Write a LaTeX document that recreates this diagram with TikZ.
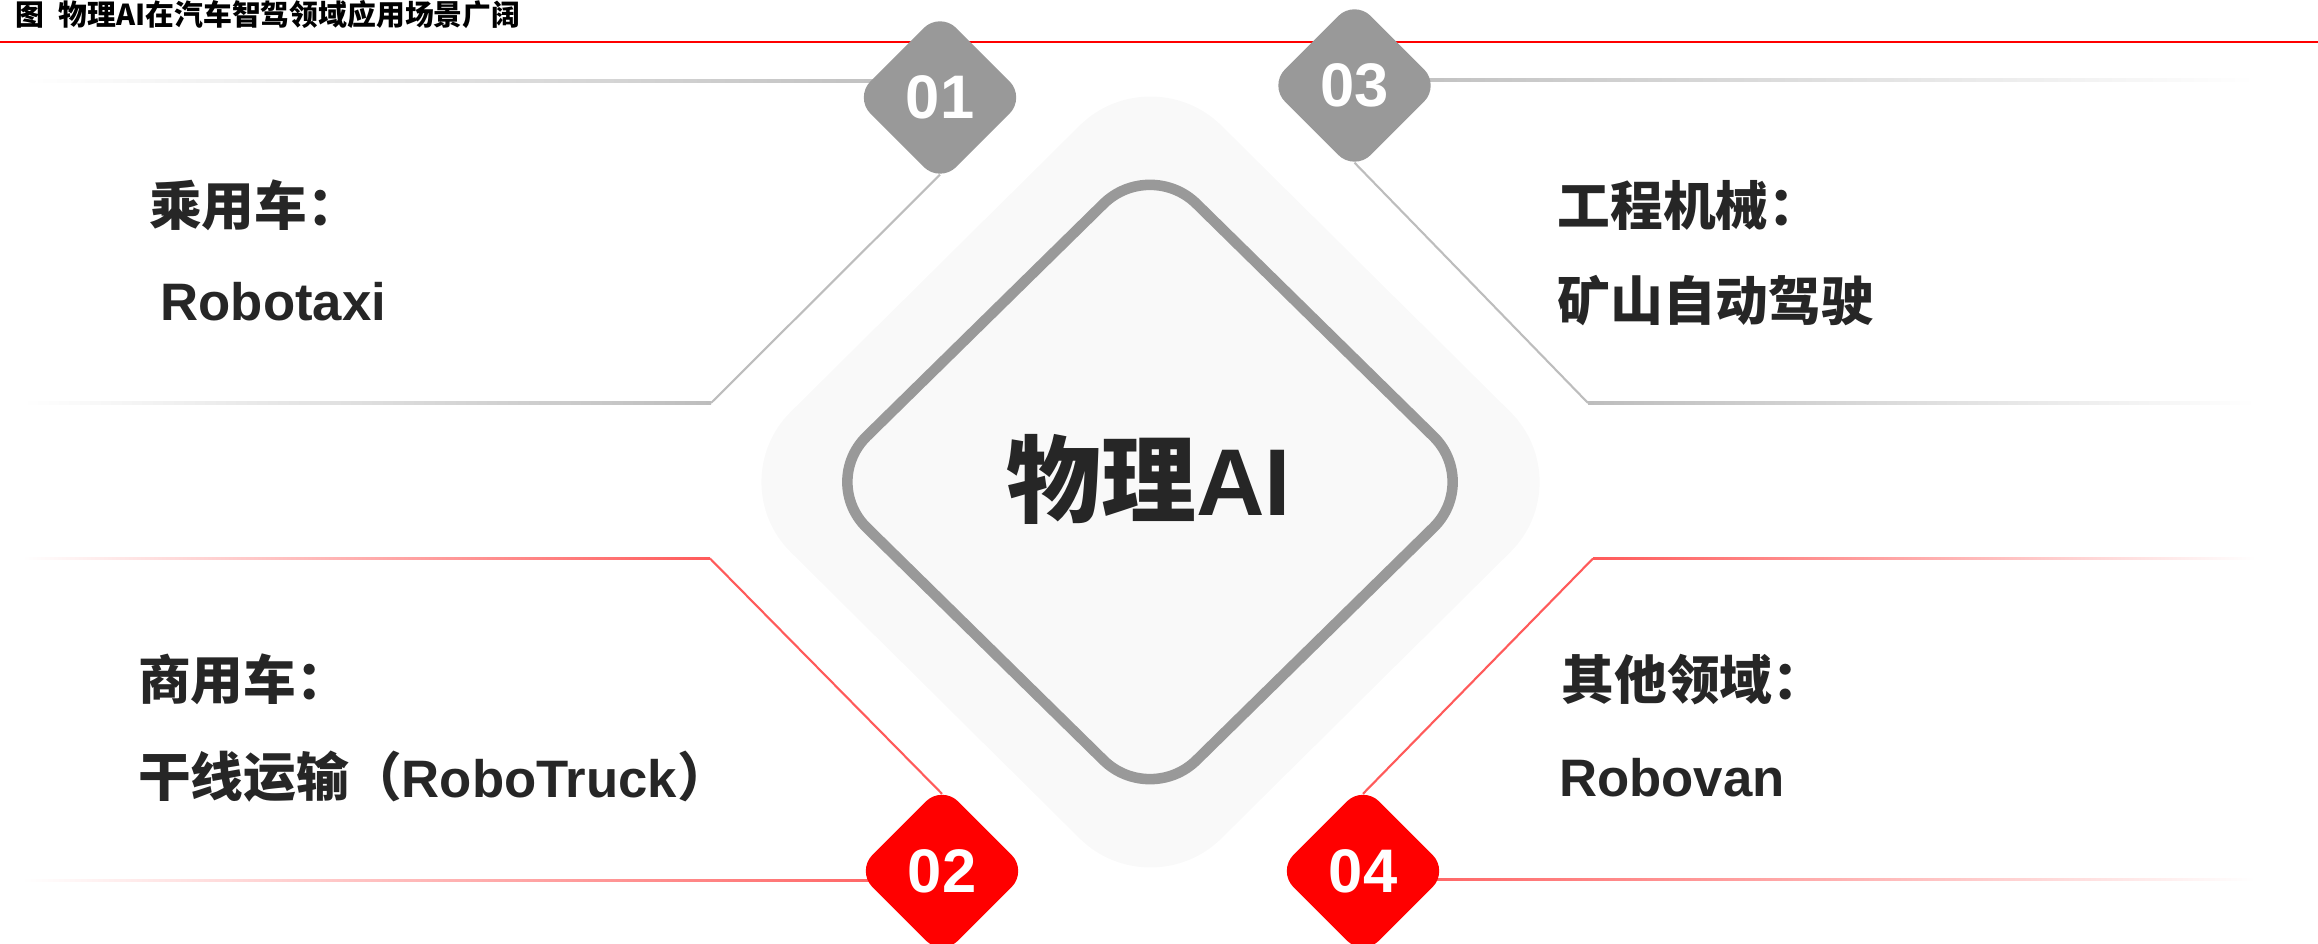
\documentclass[tikz,border=0pt]{standalone}
\usepackage{fontspec}
\setmainfont{Liberation Sans}
\newfontfamily\cjk{Noto Sans CJK SC}
\usetikzlibrary{shapes.geometric}

\definecolor{markgrey}{HTML}{999999}
\definecolor{padgrey}{HTML}{F9F9F9}
\definecolor{linegrey}{HTML}{BDBDBD}
\definecolor{markred}{HTML}{FF0000}
\definecolor{linered}{HTML}{FF5A5A}
\definecolor{ink}{HTML}{262626}

\pgfdeclarelayer{back}
\pgfsetlayers{back,main}

\begin{document}
\begin{tikzpicture}[line cap=round, line join=round, x=1cm, y=1cm,
        badge/.style={diamond, aspect=1, minimum width=1.72cm, minimum height=1.72cm,
            inner sep=0pt, rounded corners=0.23cm, text=white,
            font=\bfseries\fontsize{17.5pt}{20pt}\selectfont},
        item/.style={anchor=base west, inner sep=0pt, text=ink,
            font=\bfseries\fontsize{15pt}{18pt}\selectfont},
        greyline/.style={draw=linegrey, line width=0.6pt},
        redline/.style={draw=linered, line width=0.6pt},
        greyin/.style={left color=white, right color=linegrey},
        greyout/.style={left color=linegrey, right color=white},
        redin/.style={left color=white, right color=linered},
        redout/.style={left color=linered, right color=white}]
    \useasboundingbox (0, 0) rectangle (23.18, 9.44);

    % Title
    \node[anchor=west, inner sep=0pt, font=\cjk\bfseries\fontsize{8.2pt}{10pt}\selectfont] (title)
        at (0.15, 9.29) {图\hspace{0.5em}物理AI在汽车智驾领域应用场景广阔};
    \draw[markred, line width=0.6pt] (0, 9.02) -- (23.18, 9.02);

    % Centre
    \node[diamond, aspect=1, minimum width=8.62cm, minimum height=8.54cm, inner sep=0pt,
        rounded corners=1cm, fill=padgrey] (pad) at (11.505, 4.62) {};
    \node[diamond, aspect=1, minimum width=6.64cm, minimum height=6.52cm, inner sep=0pt,
        rounded corners=0.65cm, draw=markgrey, line width=3pt] (core) at (11.50, 4.62) {};
    \node[anchor=base, inner sep=0pt, text=ink, font=\bfseries\fontsize{27pt}{32pt}\selectfont] (name)
        at (11.49, 4.28) {{\cjk 物理}AI};

    % Badges
    \node[badge, fill=markgrey] (b1) at (9.40, 8.465) {01};
    \node[badge, fill=markred] (b2) at (9.42, 0.73) {02};
    \node[badge, fill=markgrey] (b3) at (13.545, 8.585) {03};
    \node[badge, fill=markred] (b4) at (13.63, 0.73) {04};

    \coordinate (k1) at (7.11, 5.41);
    \coordinate (k2) at (7.10, 3.855);
    \coordinate (k3) at (15.88, 5.41);
    \coordinate (k4) at (15.93, 3.855);
    \coordinate (f1a) at (0.22, 8.63);
    \coordinate (f1b) at (0.22, 5.41);
    \coordinate (f2a) at (0.22, 3.855);
    \coordinate (f2b) at (0.22, 0.637);
    \coordinate (f3a) at (22.55, 8.64);
    \coordinate (f3b) at (22.55, 5.41);
    \coordinate (f4a) at (22.55, 3.855);
    \coordinate (f4b) at (22.55, 0.647);
    \coordinate (e1) at (f1a -| b1);
    \coordinate (e2) at (f2b -| b2);
    \coordinate (e3) at (f3a -| b3);
    \coordinate (e4) at (f4b -| b4);

    \begin{pgfonlayer}{back}
        % Line 1
        \shade[greyin] ([yshift=-0.3pt]f1a) rectangle ([yshift=0.3pt]e1);
        \draw[greyline] ([yshift=0.95mm]b1.south) -- (k1);
        \shade[greyin] ([yshift=-0.3pt]f1b) rectangle ([yshift=0.3pt]k1);

        % Line 2
        \shade[redin] ([yshift=-0.3pt]f2a) rectangle ([yshift=0.3pt]k2);
        \draw[redline] (k2) -- ([yshift=-0.95mm]b2.north);
        \shade[redin] ([yshift=-0.3pt]f2b) rectangle ([yshift=0.3pt]e2);

        % Line 3
        \shade[greyout] ([yshift=-0.3pt]e3) rectangle ([yshift=0.3pt]f3a);
        \draw[greyline] ([yshift=0.95mm]b3.south) -- (k3);
        \shade[greyout] ([yshift=-0.3pt]k3) rectangle ([yshift=0.3pt]f3b);

        % Line 4
        \draw[redline] ([yshift=-0.95mm]b4.north) -- (k4);
        \shade[redout] ([yshift=-0.3pt]k4) rectangle ([yshift=0.3pt]f4a);
        \shade[redout] ([yshift=-0.3pt]e4) rectangle ([yshift=0.3pt]f4b);
    \end{pgfonlayer}

    % Texts
    \node[item] (t1a) at (1.485, 7.18) {\cjk 乘用车：};
    \node[item] (t1b) at (1.60, 6.23) {Robotaxi};
    \node[item] (t2a) at (1.375, 2.44) {\cjk 商用车：};
    \node[item] (t2b) at (1.375, 1.47) {{\cjk 干线运输（}RoboTruck{\cjk ）}};
    \node[item] (t3a) at (15.57, 7.18) {\cjk 工程机械：};
    \node[item] (t3b) at (15.57, 6.23) {\cjk 矿山自动驾驶};
    \node[item] (t4a) at (15.61, 2.44) {\cjk 其他领域：};
    \node[item] (t4b) at (15.585, 1.47) {Robovan};
\end{tikzpicture}
\end{document}
